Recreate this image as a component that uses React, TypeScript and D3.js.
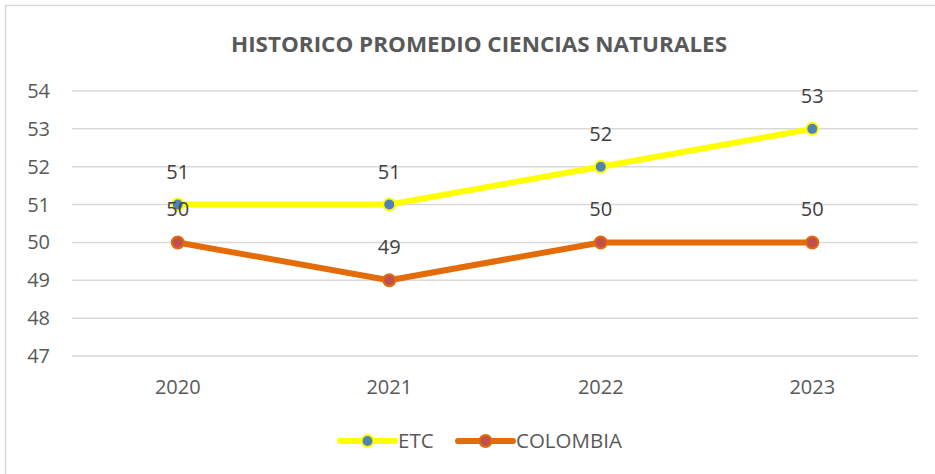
import React from 'react';
import * as d3 from 'd3';

const years = ['2020', '2021', '2022', '2023'];
const etc = [51, 51, 52, 53];
const colombia = [50, 49, 50, 50];
const yTicks = [47, 48, 49, 50, 51, 52, 53, 54];

const series = [
  { name: 'ETC', values: etc, line: '#FFFF00', fill: '#4F81BD', stroke: '#FFFF00' },
  { name: 'COLOMBIA', values: colombia, line: '#E36C09', fill: '#C0504D', stroke: '#E36C09' },
];

export default function App() {
  const width = 935;
  const height = 474;
  const font = "'Open Sans', 'Liberation Sans', sans-serif";
  const textColor = '#595959';

  const x = d3.scaleBand<string>().domain(years).range([72, 918]);
  const y = d3.scaleLinear().domain([47, 54]).range([356, 91]);
  const cx = (d: string) => (x(d) ?? 0) + x.bandwidth() / 2;

  const line = d3.line<number>()
    .x((_, i) => cx(years[i]))
    .y(v => y(v));

  const legendItems = [
    { s: series[0], x0: 340, tx: 398 },
    { s: series[1], x0: 458, tx: 516 },
  ];

  return (
    <svg width={width} height={height} style={{ position: 'absolute', left: 0, top: 0, background: '#fff' }}>
      <rect x={5.5} y={5.5} width={width + 10} height={height + 10} fill="#fff" stroke="#d9d9d9" strokeWidth={1.5} />

      <text x={479} y={52} textAnchor="middle" fontFamily={font} fontWeight="bold" fontSize={21}
        fill={textColor} textLength={496} lengthAdjust="spacingAndGlyphs">
        HISTORICO PROMEDIO CIENCIAS NATURALES
      </text>

      {yTicks.map(t => (
        <g key={t}>
          <line x1={72} x2={918} y1={y(t)} y2={y(t)} stroke="#d9d9d9" strokeWidth={1.5} />
          <text x={50} y={y(t) + 7} textAnchor="end" fontFamily={font} fontSize={20} fill={textColor}>{t}</text>
        </g>
      ))}

      {years.map(yr => (
        <text key={yr} x={cx(yr)} y={394} textAnchor="middle" fontFamily={font} fontSize={20} fill={textColor}>{yr}</text>
      ))}

      {series.map(s => (
        <g key={s.name}>
          <path d={line(s.values) ?? ''} fill="none" stroke={s.line} strokeWidth={6} strokeLinejoin="round" />
          {s.values.map((v, i) => (
            <circle key={i} cx={cx(years[i])} cy={y(v)} r={6} fill={s.fill} stroke={s.stroke} strokeWidth={2} />
          ))}
        </g>
      ))}

      {series.map(s => s.values.map((v, i) => (
        <text key={s.name + i} x={cx(years[i])} y={y(v) - 26} textAnchor="middle" fontFamily={font}
          fontSize={20} fill="#404040">{v}</text>
      )))}

      {legendItems.map(({ s, x0, tx }) => (
        <g key={s.name}>
          <line x1={x0} x2={x0 + 55} y1={441} y2={441} stroke={s.line} strokeWidth={6} strokeLinecap="round" />
          <circle cx={x0 + 27.5} cy={441} r={6} fill={s.fill} stroke={s.stroke} strokeWidth={2} />
          <text x={tx} y={448} fontFamily={font} fontSize={20.5} fill={textColor}>{s.name}</text>
        </g>
      ))}
    </svg>
  );
}
